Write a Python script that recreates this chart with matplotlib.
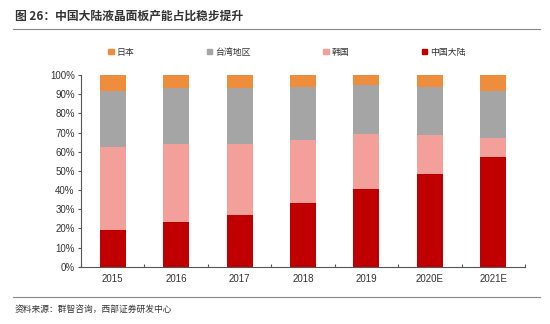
import matplotlib.pyplot as plt
import numpy as np
from matplotlib.patches import Patch
from matplotlib.lines import Line2D

# 数据（读自原图，单位 %）
anos = ['2015', '2016', '2017', '2018', '2019', '2020E', '2021E']
china = [19.0, 23.1, 27.1, 33.4, 40.7, 48.3, 57.4]
korea = [43.3, 40.7, 36.7, 32.7, 28.3, 20.4, 9.9]
taiwan = [29.4, 29.2, 29.2, 27.8, 25.8, 24.9, 24.4]
japan = [8.3, 7.0, 7.0, 6.1, 5.2, 6.4, 8.3]

cores = {'中国大陆': '#C00000', '韩国': '#F4A09A', '台湾地区': '#A5A5A5', '日本': '#EE8E3C'}
cjk = ['Noto Sans CJK SC', 'DejaVu Sans']
num = ['Liberation Sans', 'DejaVu Sans']

fig = plt.figure(figsize=(5.5, 3.24), dpi=100)
ax = fig.add_axes([81/550, 1-266.7/324, 444/550, 191.7/324])

x = np.arange(len(anos))
w = 0.41
base = np.zeros(len(anos))
for nome, vals in [('中国大陆', china), ('韩国', korea), ('台湾地区', taiwan), ('日本', japan)]:
    ax.bar(x, vals, w, bottom=base, color=cores[nome], label=nome)
    base = base + np.array(vals)

ax.set_xlim(-0.5, len(anos) - 0.5)
ax.set_ylim(0, 100)
ax.set_yticks(np.arange(0, 101, 10))
ax.set_yticklabels([f'{v}%' for v in range(0, 101, 10)], family=num, fontsize=7, color='#333333')
ax.set_xticks(x)
ax.set_xticklabels(anos, family=num, fontsize=7, color='#333333')
ax.set_xticks(np.arange(-0.5, len(anos), 1), minor=True)
ax.tick_params(axis='x', which='major', length=0, pad=5)
ax.tick_params(axis='x', which='minor', length=2.5, direction='in', color='#555555', width=0.8)
ax.tick_params(axis='y', length=2.5, direction='out', color='#555555', width=0.8, pad=2)
for s in ['top', 'right']:
    ax.spines[s].set_visible(False)
for s in ['left', 'bottom']:
    ax.spines[s].set_color('#555555')
    ax.spines[s].set_linewidth(0.8)

# legenda
handles = [Patch(color=cores[n]) for n in ['日本', '台湾地区', '韩国', '中国大陆']]
fig.legend(handles, ['日本', '台湾地区', '韩国', '中国大陆'], loc='center',
           bbox_to_anchor=(287/550, 1-52.3/324), ncol=4, frameon=False,
           prop={'family': cjk, 'size': 6.4}, handlelength=0.6, handleheight=0.6,
           handletextpad=0.3, columnspacing=8.2, labelcolor='#333333')

# titulo e fonte
fig.text(15/550, 1-16/324, '图 26：中国大陆液晶面板产能占比稳步提升', family=cjk,
         fontsize=8.5, fontweight='bold', color='#333333', va='center')
fig.add_artist(Line2D([13/550, 540/550], [1-29/324, 1-29/324], color='#888888', lw=0.8))
fig.add_artist(Line2D([13/550, 540/550], [1-297/324, 1-297/324], color='#888888', lw=0.8))
fig.text(15/550, 1-309/324, '资料来源：群智咨询，西部证券研发中心', family=cjk,
         fontsize=6.3, color='#333333', va='center')

fig.savefig('out.png', dpi=100)
